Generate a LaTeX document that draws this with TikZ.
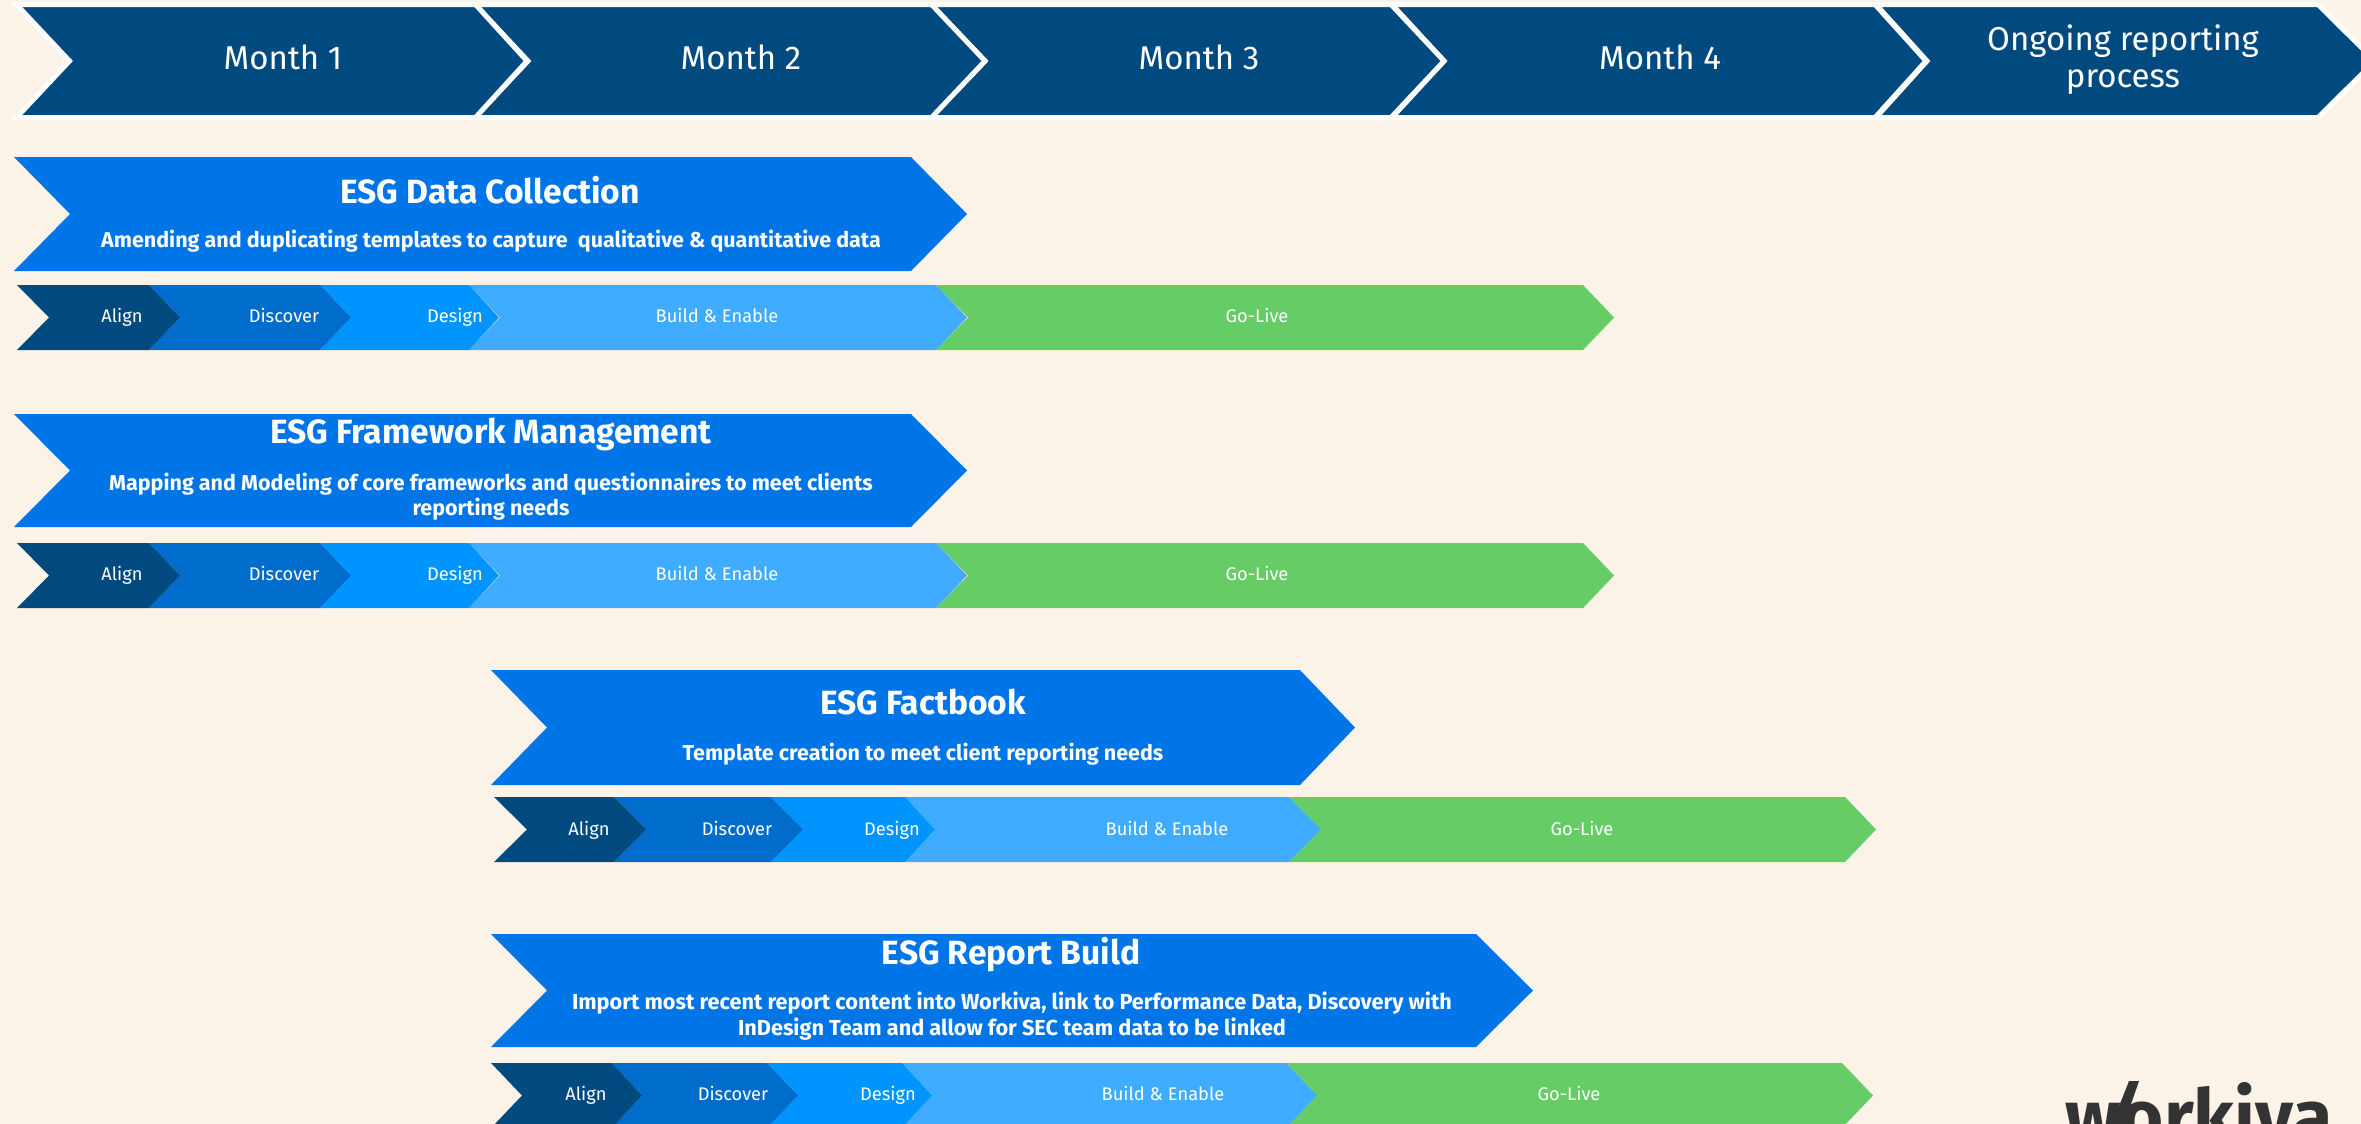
\documentclass[tikz,border=0pt]{standalone}
\usepackage{fontspec}
\setmainfont{Fira Sans}
\definecolor{bgc}{HTML}{FCF3E8}
\definecolor{navy}{HTML}{004A80}
\definecolor{mainb}{HTML}{0075E8}
\definecolor{discb}{HTML}{006CCC}
\definecolor{desb}{HTML}{0094FF}
\definecolor{buildb}{HTML}{40ACFF}
\definecolor{golive}{HTML}{66CC66}
\definecolor{logoc}{HTML}{333333}
% fill, left, notch, right, tip, top, bottom
\newcommand{\chevshape}[8][]{\path[#1,fill=#2] (#3,#7) -- (#5,#7) -- (#6,{(#7+#8)/2}) -- (#5,#8) -- (#3,#8) -- (#4,{(#7+#8)/2}) -- cycle;}
\tikzset{
 monthtxt/.style={text=white,font=\fontsize{16.5}{18.5}\selectfont,align=center,inner sep=0pt},
 titletxt/.style={text=white,font=\fontsize{16.8}{19}\selectfont\bfseries,align=center,inner sep=0pt},
 subtxt/.style={text=white,font=\fontsize{10.75}{12.6}\selectfont\bfseries,align=center,inner sep=0pt},
 phasetxt/.style={text=white,font=\fontsize{9.15}{10}\selectfont,inner sep=0pt,text height=8pt,text depth=2pt},
 monthedge/.style={draw=white,line width=2.5pt,line join=miter}
}
\begin{document}
\begin{tikzpicture}[x=0.5pt,y=-0.5pt]
\useasboundingbox (0,0) rectangle (2361,1124);
\clip (0,0) rectangle (2361,1124);
\fill[bgc] (0,0) rectangle (2361,1124);
% Month band
\chevshape[monthedge]{navy}{1876}{1927}{2318}{2375}{4.5}{117.5}
\chevshape[monthedge]{navy}{1392}{1444}{1875}{1926}{4.5}{117.5}
\chevshape[monthedge]{navy}{931}{985}{1391}{1444}{4.5}{117.5}
\chevshape[monthedge]{navy}{475}{528}{931.5}{985}{4.5}{117.5}
\chevshape[monthedge]{navy}{16.5}{69.5}{475.5}{527}{4.5}{117.5}
\node[monthtxt] (m1) at (283,57) {Month 1};
\node[monthtxt] (m2) at (741,57) {Month 2};
\node[monthtxt] (m3) at (1199,57) {Month 3};
\node[monthtxt] (m4) at (1660,57) {Month 4};
\node[monthtxt] (m5) at (2123,60) {Ongoing reporting\\process};
% ESG Data Collection
\chevshape{mainb}{14}{70}{911}{967}{157}{271}
\node[titletxt] (t1) at (490,190) {ESG Data Collection};
\node[subtxt] (s1) at (491,241) {Amending and duplicating templates to capture\ \ qualitative \& quantitative data};
\chevshape{golive}{936}{968}{1583}{1614}{285}{350}
\chevshape{buildb}{469}{500}{936}{967}{285}{350}
\chevshape{desb}{320}{351}{469}{499}{285}{350}
\chevshape{discb}{149}{180}{320}{351}{285}{350}
\chevshape{navy}{17}{49}{149}{180}{285}{350}
\node[phasetxt] (a1) at (122,316) {Align};
\node[phasetxt] (b1) at (284,316) {Discover};
\node[phasetxt] (c1) at (455,316) {Design};
\node[phasetxt] (d1) at (717,316) {Build \& Enable};
\node[phasetxt] (e1) at (1257,316) {Go-Live};
% ESG Framework Management
\chevshape{mainb}{14}{70}{911}{967}{414}{527}
\node[titletxt] (t2) at (491,434) {ESG Framework Management};
\node[subtxt] (s2) at (491,497) {Mapping and Modeling of core frameworks and questionnaires to meet clients\\reporting needs};
\chevshape{golive}{936}{968}{1583}{1614}{543}{608}
\chevshape{buildb}{469}{500}{936}{967}{543}{608}
\chevshape{desb}{320}{351}{469}{499}{543}{608}
\chevshape{discb}{149}{180}{320}{351}{543}{608}
\chevshape{navy}{17}{49}{149}{180}{543}{608}
\node[phasetxt] (a2) at (122,574) {Align};
\node[phasetxt] (b2) at (284,574) {Discover};
\node[phasetxt] (c2) at (455,574) {Design};
\node[phasetxt] (d2) at (717,574) {Build \& Enable};
\node[phasetxt] (e2) at (1257,574) {Go-Live};
% ESG Factbook
\chevshape{mainb}{491}{547}{1300}{1355}{670}{785}
\node[titletxt] (t3) at (923,702) {ESG Factbook};
\node[subtxt] (s3) at (923,754) {Template creation to meet client reporting needs};
\chevshape{golive}{1289}{1321}{1845}{1876}{797}{862}
\chevshape{buildb}{905}{935}{1289}{1321}{797}{862}
\chevshape{desb}{771}{803}{905}{935}{797}{862}
\chevshape{discb}{614}{646}{771}{803}{797}{862}
\chevshape{navy}{494}{527}{614}{646}{797}{862}
\node[phasetxt] (a3) at (589,829) {Align};
\node[phasetxt] (b3) at (737,829) {Discover};
\node[phasetxt] (c3) at (892,829) {Design};
\node[phasetxt] (d3) at (1167,829) {Build \& Enable};
\node[phasetxt] (e3) at (1582,829) {Go-Live};
% ESG Report Build
\chevshape{mainb}{491}{547}{1476}{1533}{934}{1047}
\node[titletxt] (t4) at (1011,955) {ESG Report Build};
\node[subtxt,font=\fontsize{10.85}{12.6}\selectfont\bfseries] (s4) at (1012,1016) {Import most recent report content into Workiva, link to Performance Data, Discovery with\\InDesign Team and allow for SEC team data to be linked};
\chevshape{golive}{1286}{1317}{1842}{1873}{1063}{1128}
\chevshape{buildb}{902}{932}{1286}{1317}{1063}{1128}
\chevshape{desb}{767}{798}{902}{932}{1063}{1128}
\chevshape{discb}{612}{642}{767}{798}{1063}{1128}
\chevshape{navy}{491}{522}{612}{642}{1063}{1128}
\node[phasetxt] (a4) at (586,1094) {Align};
\node[phasetxt] (b4) at (733,1094) {Discover};
\node[phasetxt] (c4) at (888,1094) {Design};
\node[phasetxt] (d4) at (1163,1094) {Build \& Enable};
\node[phasetxt] (e4) at (1569,1094) {Go-Live};
% Logo
\node[anchor=base,text=logoc,inner sep=0pt,font=\fontsize{37}{40}\selectfont\bfseries] (logo) at (2199,1142) {workiva};
\fill[logoc] (2129,1081) -- (2139,1081) -- (2124,1124) -- (2112,1124) -- cycle;
\end{tikzpicture}
\end{document}
